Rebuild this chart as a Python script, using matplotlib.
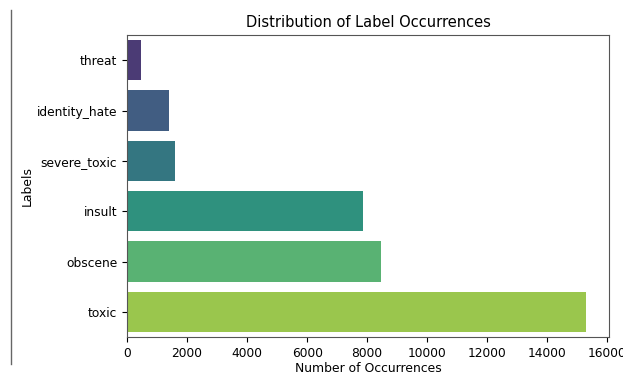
import matplotlib
matplotlib.use("Agg")
import matplotlib.pyplot as plt
import seaborn as sns
from matplotlib.lines import Line2D

labels = ["threat", "identity_hate", "severe_toxic", "insult", "obscene", "toxic"]
counts = [478, 1405, 1595, 7877, 8449, 15294]

fig = plt.figure(figsize=(6.23, 3.74), dpi=100)
ax = fig.add_axes([0.204, 0.099, 0.7735, 0.807])
sns.barplot(x=counts, y=labels, hue=labels, palette="viridis", legend=False, ax=ax)
ax.set_title("Distribution of Label Occurrences", fontsize=10.5, pad=6)
ax.set_xlabel("Number of Occurrences", fontsize=8.9, labelpad=2)
ax.set_ylabel("Labels", fontsize=8.9, labelpad=2)
ax.tick_params(labelsize=8.8)
for s in ax.spines.values():
    s.set_edgecolor("#555555")
fig.add_artist(Line2D([11/623, 11/623], [1-10/374, 1-364/374], color="#666666", lw=1, transform=fig.transFigure))
fig.savefig("out.png", dpi=100)
